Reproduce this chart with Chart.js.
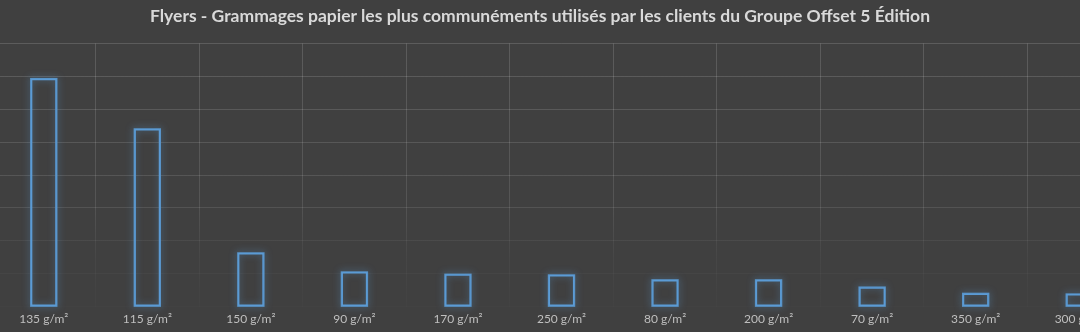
<!DOCTYPE html>
<html>
<head>
<meta charset="utf-8">
<script src="https://cdn.jsdelivr.net/npm/chart.js@4/dist/chart.umd.min.js"></script>
<style>
  html, body { margin: 0; padding: 0; background: #404040; overflow: hidden; }
  #cadre { position: relative; width: 1080px; height: 332px; overflow: hidden; }
  #c { position: absolute; left: -8px; top: 0; display: block; }
  #titre {
    position: absolute; left: 0; right: 0; top: 5px; text-align: center;
    font-family: Lato, sans-serif; font-weight: bold; font-size: 17.5px; color: #d9d9d9;
    white-space: nowrap;
  }
</style>
</head>
<body>
<div id="cadre">
  <canvas id="c" width="1139" height="332"></canvas>
  <div id="titre"></div>
</div>
<script>
/* Données */
const grammages = ['135 g/m²', '115 g/m²', '150 g/m²', '90 g/m²', '170 g/m²', '250 g/m²',
    '80 g/m²', '200 g/m²', '70 g/m²', '350 g/m²', '300 g/m²'];
const utilisation = [6.93, 5.40, 1.63, 1.05, 0.98, 0.96, 0.81, 0.81, 0.59, 0.40, 0.38];
const titre = 'Flyers - Grammages papier les plus communéments utilisés par les clients du Groupe Offset 5 Édition';

const bleu = '#5b9bd5';

document.getElementById('titre').textContent = titre;

// couleur de grille qui s'estompe vers le bas
function gridColor(context) {
    const chart = context.chart;
    const area = chart.chartArea;
    if (!area) return 'rgba(255,255,255,0.12)';
    const g = chart.ctx.createLinearGradient(0, area.top, 0, area.bottom);
    g.addColorStop(0, 'rgba(255,255,255,0.15)');
    g.addColorStop(0.6, 'rgba(255,255,255,0.11)');
    g.addColorStop(0.8, 'rgba(255,255,255,0.04)');
    g.addColorStop(1, 'rgba(255,255,255,0.01)');
    return g;
}

/* halo lumineux autour des barres */
const halo = {
    id: 'halo',
    beforeDatasetsDraw(chart) {
        const ctx = chart.ctx;
        const meta = chart.getDatasetMeta(0);
        ctx.save();
        ctx.strokeStyle = 'rgba(91,155,213,0.9)';
        ctx.lineWidth = 1.5;
        ctx.shadowColor = 'rgba(91,155,213,0.9)';
        ctx.shadowBlur = 7;
        for (const bar of meta.data) {
            const p = bar.getProps(['x', 'y', 'width', 'base'], true);
            ctx.strokeRect(p.x - p.width / 2, p.y, p.width, p.base - p.y);
        }
        ctx.restore();
    }
};

new Chart(document.getElementById('c'), {
    type: 'bar',
    data: {
        labels: grammages,
        datasets: [{
            data: utilisation,
            backgroundColor: 'rgba(64,64,64,0)',
            borderColor: bleu,
            borderWidth: 1.5,
            borderSkipped: false,
            barPercentage: 0.25,
            categoryPercentage: 1
        }]
    },
    options: {
        responsive: false,
        animation: false,
        layout: { padding: { left: 0, right: 0, top: 43.5, bottom: 0 } },
        plugins: {
            legend: { display: false },
            tooltip: { enabled: false },
            title: { display: false }
        },
        scales: {
            x: {
                grid: { color: gridColor, drawTicks: false, offset: true },
                border: { display: false },
                ticks: { color: '#bfbfbf', font: { family: 'Lato', size: 12 }, padding: 5.5, maxRotation: 0, autoSkip: false }
            },
            y: {
                min: 0,
                max: 8,
                ticks: { display: false, stepSize: 1 },
                grid: { color: gridColor, drawTicks: false },
                border: { display: false }
            }
        }
    },
    plugins: [halo]
});
</script>
</body>
</html>
